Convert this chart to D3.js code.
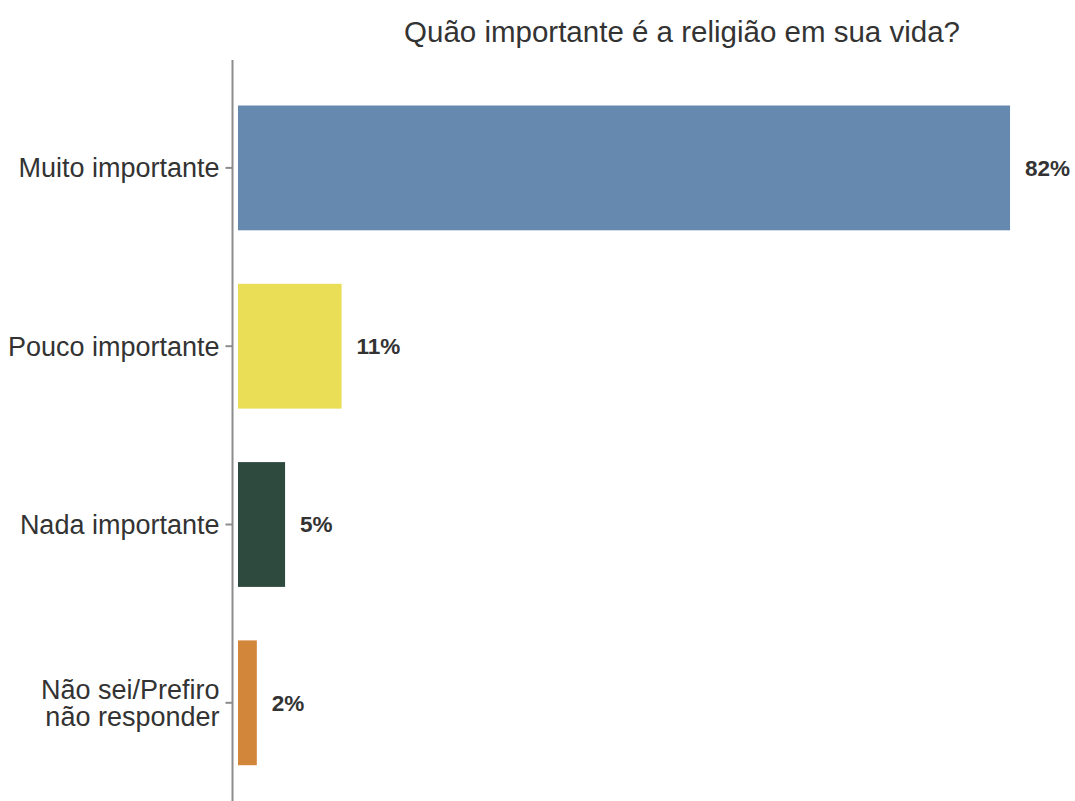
<!DOCTYPE html>
<html>
<head>
<meta charset="utf-8">
<script src="https://cdn.jsdelivr.net/npm/d3@7"></script>
<style>
  body { margin: 0; background: #fff; }
  text { font-family: "Liberation Sans", Arial, sans-serif; }
</style>
</head>
<body>
<div id="chart"></div>
<script>
var categories = ["Muito importante", "Pouco importante", "Nada importante", "Não sei/Prefiro\nnão responder"];
var values = [82, 11, 5, 2];
var colors = ["#6689b0", "#e9de55", "#2e4a3f", "#d2863a"];
var title = "Quão importante é a religião em sua vida?";

var width = 1075, height = 801;

var svg = d3.select("#chart").append("svg")
  .attr("width", width)
  .attr("height", height);

var x = d3.scaleLinear()
  .domain([0, 100])
  .range([238, 1179.5]);

var y = d3.scaleBand()
  .domain(categories)
  .range([52, 818.7])
  .paddingInner(0.3)
  .paddingOuter(0.3);

// title
svg.append("text")
  .attr("x", 682)
  .attr("y", 42)
  .attr("text-anchor", "middle")
  .attr("font-size", 29.5)
  .attr("fill", "#333")
  .text(title);

// bars
svg.selectAll(".bar")
  .data(values)
  .enter().append("rect")
  .attr("class", "bar")
  .attr("x", x(0))
  .attr("y", function(d, i) { return y(categories[i]); })
  .attr("width", function(d) { return x(d) - x(0); })
  .attr("height", y.bandwidth())
  .attr("fill", function(d, i) { return colors[i]; });

// value labels
svg.selectAll(".lbl")
  .data(values)
  .enter().append("text")
  .attr("class", "lbl")
  .attr("x", function(d) { return x(d) + 15; })
  .attr("y", function(d, i) { return y(categories[i]) + y.bandwidth() / 2; })
  .attr("dy", "0.35em")
  .attr("font-size", 22.5)
  .attr("font-weight", "bold")
  .attr("fill", "#333")
  .text(function(d) { return d + "%"; });

// y axis
var yAxis = d3.axisLeft(y).tickSize(7).tickPadding(6).tickFormat("");
var gy = svg.append("g")
  .attr("transform", "translate(232.5,0)")
  .call(yAxis);
gy.select(".domain").remove();
gy.selectAll(".tick line").attr("stroke", "#8c8c8c").attr("stroke-width", 2);

gy.selectAll(".tick").append("text")
  .attr("x", -13)
  .attr("text-anchor", "end")
  .attr("font-size", 27)
  .attr("fill", "#333")
  .each(function(d) {
    var lines = d.split("\n");
    var t = d3.select(this);
    lines.forEach(function(l, i) {
      t.append("tspan")
        .attr("x", -13)
        .attr("dy", i == 0 ? ((0.35 - (lines.length - 1) * 0.5) + "em") : "1em")
        .text(l);
    });
  });

svg.append("line")
  .attr("x1", 232.5).attr("x2", 232.5)
  .attr("y1", 60).attr("y2", height)
  .attr("stroke", "#8c8c8c")
  .attr("stroke-width", 2);
</script>
</body>
</html>
